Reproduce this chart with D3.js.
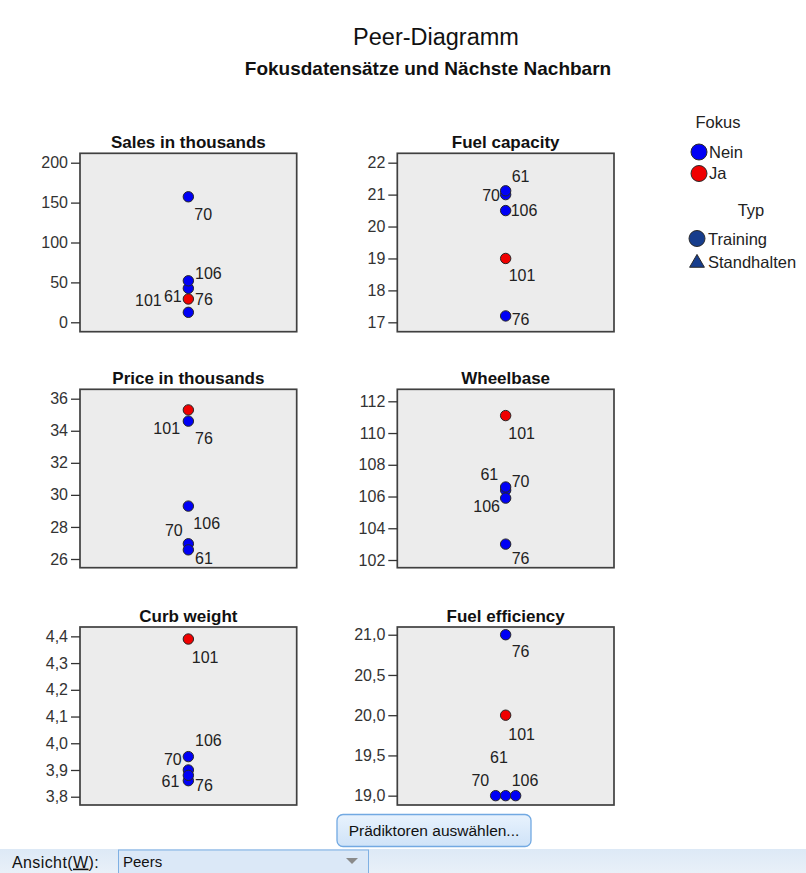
<!DOCTYPE html>
<html>
<head>
<meta charset="utf-8">
<script src="https://cdn.jsdelivr.net/npm/d3@7"></script>
<style>
  body { margin: 0; background: #ffffff; }
  svg { display: block; font-family: "Liberation Sans", Arial, sans-serif; }
</style>
</head>
<body>
<svg id="chart" width="806" height="873"></svg>
<script>
// ---- Data: focal record 101 and its nearest neighbours ----
const recordIds = [101, 70, 61, 106, 76];
const focusFlags = ["Ja", "Nein", "Nein", "Nein", "Nein"];
const recordTypes = ["Training", "Training", "Training", "Training", "Training"];

const predictorNames = [
  "Sales in thousands", "Fuel capacity",
  "Price in thousands", "Wheelbase",
  "Curb weight", "Fuel efficiency"
];

const salesValues          = [29.2, 157.3, 42.6, 52.0, 12.5];
const fuelCapacityValues   = [19.0, 21.0, 21.12, 20.5, 17.2];
const priceValues          = [35.3, 26.95, 26.57, 29.3, 34.6];
const wheelbaseValues      = [111.1, 106.4, 106.6, 105.9, 103.0];
const curbWeightValues     = [4.39, 3.90, 3.86, 3.95, 3.88];
const fuelEfficiencyValues = [20.0, 19.0, 19.0, 19.0, 21.0];

// ---- Axis ticks and extents ----
const salesTicks          = [0, 50, 100, 150, 200];
const fuelCapacityTicks   = [17, 18, 19, 20, 21, 22];
const priceTicks          = [26, 28, 30, 32, 34, 36];
const wheelbaseTicks      = [102, 104, 106, 108, 110, 112];
const curbWeightTicks     = [3.8, 3.9, 4.0, 4.1, 4.2, 4.3, 4.4];
const fuelEfficiencyTicks = [19.0, 19.5, 20.0, 20.5, 21.0];

const salesExtent          = [-11.8, 211.8];
const fuelCapacityExtent   = [16.706, 22.294];
const priceExtent          = [25.457, 36.586];
const wheelbaseExtent      = [101.515, 112.756];
const curbWeightExtent     = [3.769, 4.435];
const fuelEfficiencyExtent = [18.884, 21.096];

const focusCategories = ["Nein", "Ja"];
const typeCategories = ["Training", "Standhalten"];

// ---- German number formatting ----
const de = d3.formatLocale({ decimal: ",", thousands: ".", grouping: [3], currency: ["", " €"] });

const panels = [
  { values: salesValues,          ticks: salesTicks,          extent: salesExtent,          fmt: de.format("d") },
  { values: fuelCapacityValues,   ticks: fuelCapacityTicks,   extent: fuelCapacityExtent,   fmt: de.format("d") },
  { values: priceValues,          ticks: priceTicks,          extent: priceExtent,          fmt: de.format("d") },
  { values: wheelbaseValues,      ticks: wheelbaseTicks,      extent: wheelbaseExtent,      fmt: de.format("d") },
  { values: curbWeightValues,     ticks: curbWeightTicks,     extent: curbWeightExtent,     fmt: de.format(".1f") },
  { values: fuelEfficiencyValues, ticks: fuelEfficiencyTicks, extent: fuelEfficiencyExtent, fmt: de.format(".1f") }
];

// Label placement around each point: [anchor, dx, dy]
const labelPlacement = [
  { 70: ["start", 6, 17.6], 106: ["start", 6.7, -7.4], 101: ["end", -26.6, 1], 61: ["end", -6.6, 8.4], 76: ["start", 6.7, -13.3] },
  { 61: ["start", 6, -14], 70: ["end", -5.7, 0.4], 106: ["start", 5, 0], 101: ["start", 3, 16.5], 76: ["start", 6, 3.5] },
  { 101: ["end", -8.3, 18.4], 76: ["start", 6.7, 17.2], 106: ["start", 5, 17.2], 70: ["end", -5.6, -13.8], 61: ["start", 6.7, 8.4] },
  { 101: ["start", 2.6, 17.7], 61: ["end", -7.4, -13], 70: ["start", 6, -8.4], 106: ["end", -5.7, 8.6], 76: ["start", 6, 14.2] },
  { 101: ["start", 3.4, 18.6], 106: ["start", 6.7, -16], 70: ["end", -6.6, -11], 76: ["start", 6.7, 9.6], 61: ["end", -9, 1] },
  { 76: ["start", 6, 16.7], 101: ["start", 2.6, 19.7], 70: ["end", -6.4, -15.6], 61: ["middle", -6.7, -38], 106: ["start", -4, -15.6] }
];

// ---- Layout ----
const colFrames = [[80, 296.7], [397.3, 614]];
const rowFrames = [[153.3, 331.7], [389.3, 567.7], [627, 805]];
const pointRadius = 5.2;
const dodgeStep = 10;

const focusColor = d3.scaleOrdinal().domain(focusCategories).range(["#0000f5", "#f00000"]);

const svg = d3.select("#chart");
svg.append("rect").attr("width", 806).attr("height", 873).attr("fill", "#ffffff");

// Titles
svg.append("text").attr("x", 436).attr("y", 45).attr("text-anchor", "middle")
  .attr("font-size", 23.5).attr("fill", "#111").text("Peer-Diagramm");
svg.append("text").attr("x", 428).attr("y", 75).attr("text-anchor", "middle")
  .attr("font-size", 19).attr("font-weight", "bold").attr("fill", "#111")
  .text("Fokusdatensätze und Nächste Nachbarn");

panels.forEach((p, i) => {
  const [x0, x1] = colFrames[i % 2];
  const [y0, y1] = rowFrames[Math.floor(i / 2)];
  const g = svg.append("g");

  const y = d3.scaleLinear().domain(p.extent).range([y1, y0]);
  const x = d3.scalePoint().domain([predictorNames[i]]).range([x0, x1]).padding(0.5);

  g.append("rect").attr("x", x0).attr("y", y0).attr("width", x1 - x0).attr("height", y1 - y0)
    .attr("fill", "#ececec").attr("stroke", "#404040").attr("stroke-width", 1.7);

  g.append("text").attr("x", (x0 + x1) / 2).attr("y", y0 - 5.5).attr("text-anchor", "middle")
    .attr("font-size", 17).attr("font-weight", "bold").attr("fill", "#111").text(predictorNames[i]);

  const axis = d3.axisLeft(y).tickValues(p.ticks).tickFormat(p.fmt).tickSize(9).tickPadding(3);
  const ag = g.append("g").attr("transform", `translate(${x0},0)`).call(axis);
  ag.select(".domain").remove();
  ag.selectAll(".tick line").attr("stroke", "#333").attr("stroke-width", 1.3);
  ag.selectAll(".tick text").attr("font-size", 16).attr("fill", "#333")
    .attr("font-family", '"Liberation Sans", Arial, sans-serif');

  // Records for this predictor; equal values are dodged sideways
  const recs = recordIds.map((id, k) => ({ id, focus: focusFlags[k], value: p.values[k] }));
  const groups = d3.group(recs, d => d.value);
  groups.forEach(arr => {
    arr.forEach((d, j) => { d.offset = (j - (arr.length - 1) / 2) * dodgeStep; });
  });

  recs.forEach(d => { d.px = x(predictorNames[i]) + d.offset; d.py = y(d.value); });

  g.selectAll("circle.pt").data(recs).join("circle").attr("class", "pt")
    .attr("cx", d => d.px).attr("cy", d => d.py).attr("r", pointRadius)
    .attr("fill", d => focusColor(d.focus)).attr("stroke", "#262626").attr("stroke-width", 1);

  g.selectAll("text.lbl").data(recs).join("text").attr("class", "lbl")
    .attr("x", d => d.px + labelPlacement[i][d.id][1])
    .attr("y", d => d.py + labelPlacement[i][d.id][2])
    .attr("dy", "0.35em")
    .attr("text-anchor", d => labelPlacement[i][d.id][0])
    .attr("font-size", 16).attr("fill", "#222")
    .text(d => d.id);
});

// ---- Legend ----
const leg = svg.append("g");
leg.append("text").attr("x", 718).attr("y", 122).attr("dy", "0.35em").attr("text-anchor", "middle")
  .attr("font-size", 16.5).attr("fill", "#222").text("Fokus");
focusCategories.forEach((c, k) => {
  const cy = 152 + k * 21.5;
  leg.append("circle").attr("cx", 699).attr("cy", cy).attr("r", 8)
    .attr("fill", focusColor(c)).attr("stroke", "#2a2a2a").attr("stroke-width", 1);
  leg.append("text").attr("x", 709).attr("y", cy).attr("dy", "0.35em")
    .attr("font-size", 16.5).attr("fill", "#222").text(c);
});
leg.append("text").attr("x", 751).attr("y", 210).attr("dy", "0.35em").attr("text-anchor", "middle")
  .attr("font-size", 16.5).attr("fill", "#222").text("Typ");
const typeColor = "#173d8c";
leg.append("circle").attr("cx", 697).attr("cy", 238.5).attr("r", 8)
  .attr("fill", typeColor).attr("stroke", "#2a2a2a").attr("stroke-width", 1);
leg.append("path").attr("d", d3.symbol().type(d3.symbolTriangle).size(95)())
  .attr("transform", "translate(697,263)").attr("fill", typeColor)
  .attr("stroke", "#2a2a2a").attr("stroke-width", 1);
typeCategories.forEach((c, k) => {
  leg.append("text").attr("x", 708).attr("y", 239 + k * 23.5).attr("dy", "0.35em")
    .attr("font-size", 16.5).attr("fill", "#222").text(c);
});

// ---- Controls below the chart ----
const defs = svg.append("defs");
const gb = defs.append("linearGradient").attr("id", "btnGrad").attr("x1", 0).attr("x2", 0).attr("y1", 0).attr("y2", 1);
gb.append("stop").attr("offset", "0%").attr("stop-color", "#e8f2fd");
gb.append("stop").attr("offset", "100%").attr("stop-color", "#cfe3f8");
const gbar = defs.append("linearGradient").attr("id", "barGrad").attr("x1", 0).attr("x2", 0).attr("y1", 0).attr("y2", 1);
gbar.append("stop").attr("offset", "0%").attr("stop-color", "#dde9f6");
gbar.append("stop").attr("offset", "100%").attr("stop-color", "#e9f0f8");

svg.append("rect").attr("x", 337).attr("y", 814.5).attr("width", 194).attr("height", 32).attr("rx", 6)
  .attr("fill", "url(#btnGrad)").attr("stroke", "#72a9e2").attr("stroke-width", 1.3);
svg.append("text").attr("x", 434).attr("y", 831).attr("dy", "0.35em").attr("text-anchor", "middle")
  .attr("font-size", 15.5).attr("fill", "#111").text("Prädiktoren auswählen...");

svg.append("rect").attr("x", 0).attr("y", 849).attr("width", 806).attr("height", 24).attr("fill", "url(#barGrad)");
const lbl = svg.append("text").attr("x", 12).attr("y", 862).attr("dy", "0.35em")
  .attr("font-size", 16).attr("letter-spacing", 0.4).attr("fill", "#111");
lbl.append("tspan").text("Ansicht(");
lbl.append("tspan").attr("text-decoration", "underline").text("W");
lbl.append("tspan").text("):");
svg.append("rect").attr("x", 118.5).attr("y", 850).attr("width", 250).attr("height", 24)
  .attr("fill", "#dbe8f7").attr("stroke", "#7fb0e3").attr("stroke-width", 1);
svg.append("text").attr("x", 123).attr("y", 862).attr("dy", "0.35em")
  .attr("font-size", 15).attr("fill", "#111").text("Peers");
svg.append("path").attr("d", "M346,858 L358,858 L352,864 Z").attr("fill", "#8a8a8a");
</script>
</body>
</html>
